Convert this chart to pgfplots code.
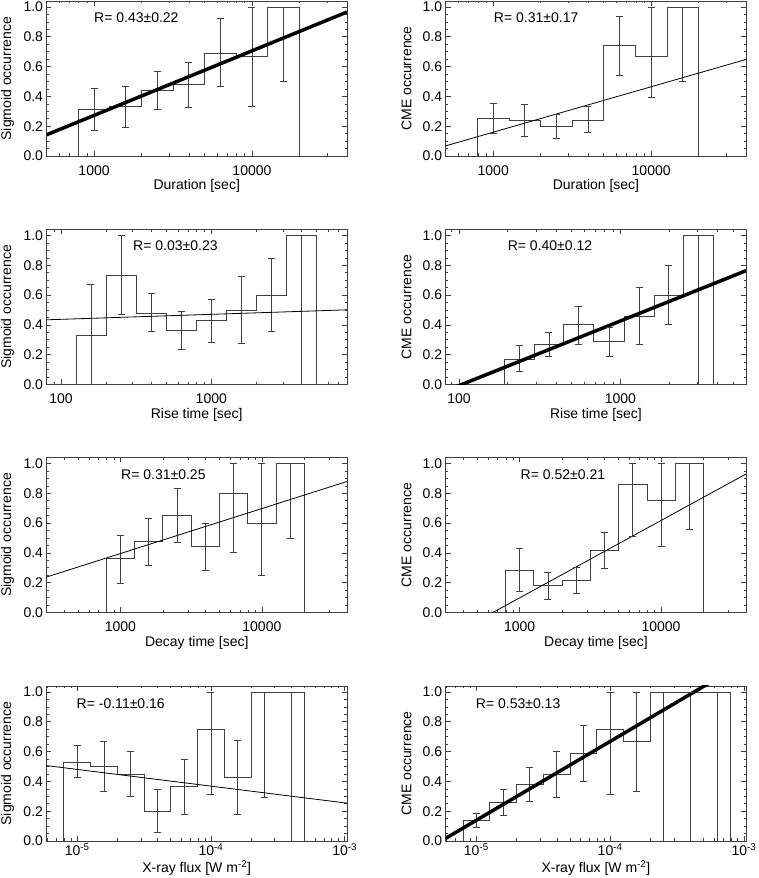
\documentclass[border=0pt]{standalone}
\usepackage{fontspec}
\setmainfont{Liberation Sans}
\usepackage{pgfplots}
\pgfplotsset{compat=1.18}
\newcommand\lblfont{\fontsize{14}{16.8}\selectfont}

\tikzset{rlab/.style={anchor=west, inner sep=0pt, font=\lblfont}}
\pgfplotsset{
  pnl/.style={
    scale only axis, width=300.5pt, height=155pt,
    ymin=0, ymax=1.04,
    ytick={0,0.2,0.4,0.6,0.8,1.0}, yticklabels={0.0,0.2,0.4,0.6,0.8,1.0},
    minor ytick={0.05,0.1,0.15,0.25,0.3,0.35,0.45,0.5,0.55,0.65,0.7,0.75,0.85,0.9,0.95},
    tick align=inside, major tick length=5pt, minor tick length=2.5pt,
    axis line style={black!75, line width=0.8pt},
    tick style={black!75, line width=0.6pt},
    tick label style={font=\lblfont},
    xticklabel style={inner sep=0pt},
    every axis y label/.style={at={(rel axis cs:-0.13,0.5)}, rotate=90, anchor=center, font=\lblfont},
    every axis x label/.style={at={(rel axis cs:0.5,-0.195)}, anchor=center, inner sep=0pt, font=\lblfont},
  },
  normx/.style={xticklabel style={yshift=-9.3pt}},
  durx/.style={normx, xmin=500, xmax=40000, xtick={1000,10000}, xticklabels={1000,10000},
    minor xtick={600,700,800,900,2000,3000,4000,5000,6000,7000,8000,9000,20000,30000},
    xlabel={Duration [sec]}},
  decx/.style={normx, xmin=300, xmax=40000, xtick={1000,10000}, xticklabels={1000,10000},
    minor xtick={400,500,600,700,800,900,2000,3000,4000,5000,6000,7000,8000,9000,20000,30000},
    xlabel={Decay time [sec]}},
  fluxx/.style={xmin=5.9e-6, xmax=1.04e-3, xtick={1e-5,1e-4,1e-3},
    xticklabels={10\textsuperscript{-5},10\textsuperscript{-4},10\textsuperscript{-3}},
    minor xtick={6e-6,7e-6,8e-6,9e-6,2e-5,3e-5,4e-5,5e-5,6e-5,7e-5,8e-5,9e-5,2e-4,3e-4,4e-4,5e-4,6e-4,7e-4,8e-4,9e-4},
    xticklabel style={yshift=-2.5pt},
    every axis x label/.style={at={(rel axis cs:0.5,-0.175)}, anchor=center, inner sep=0pt, font=\lblfont},
    xlabel={X-ray flux [W m\textsuperscript{-2}]}},
  steps/.style={const plot mark left, draw=black!75, line width=0.8pt, mark=none},
  fitline/.style={draw=black, line width=0.8pt, mark=none},
  fitthick/.style={draw=black, line width=3.5pt, mark=none},
  % error bars: (x,low) (x,high) pairs separated by nan, caps drawn as marks
  errs/.style={draw=black!75, line width=0.8pt, unbounded coords=jump,
    mark=-, mark size=3.5pt, mark options={draw=black!75, line width=0.8pt}},
}

\begin{document}
\begin{tikzpicture}
\useasboundingbox (0,0) rectangle (758pt,878pt);

% ---- row 1: duration
\begin{axis}[xmode=log, pnl, durx, at={(46.5pt,722pt)}, ylabel={Sigmoid occurrence}]
\addplot[steps] coordinates {(794,0) (794,0.31) (1259,0.33) (1995,0.44) (3162,0.48) (5012,0.69) (7943,0.67) (12589,1.0) (19953,0)};
\addplot[errs] coordinates {
 (1000,0.17) (1000,0.455) (1000,nan)
 (1585,0.195) (1585,0.47) (1585,nan)
 (2512,0.31) (2512,0.57) (2512,nan)
 (3981,0.325) (3981,0.625) (3981,nan)
 (6310,0.465) (6310,0.925) (6310,nan)
 (10000,0.335) (10000,1.0) (10000,nan)
 (15849,0.5) (15849,1.0)};
\addplot[fitthick] coordinates {(500,0.142) (40000,0.966)};
\node[rlab] at (rel axis cs:0.158,0.895) {R= 0.43±0.22};
\end{axis}

\begin{axis}[xmode=log, pnl, durx, at={(445.7pt,722pt)}, ylabel={CME occurrence}]
\addplot[steps] coordinates {(794,0) (794,0.25) (1259,0.24) (1995,0.20) (3162,0.24) (5012,0.74) (7943,0.67) (12589,1.0) (19953,0)};
\addplot[errs] coordinates {
 (1000,0.15) (1000,0.355) (1000,nan)
 (1585,0.13) (1585,0.345) (1585,nan)
 (2512,0.115) (2512,0.28) (2512,nan)
 (3981,0.155) (3981,0.33) (3981,nan)
 (6310,0.54) (6310,0.935) (6310,nan)
 (10000,0.395) (10000,1.0) (10000,nan)
 (15849,0.5) (15849,1.0)};
\addplot[fitline] coordinates {(500,0.068) (40000,0.648)};
\node[rlab] at (rel axis cs:0.16,0.895) {R= 0.31±0.17};
\end{axis}

% ---- row 2: rise time
\begin{axis}[xmode=log, pnl, normx, at={(46.5pt,493.5pt)}, xmin=80, xmax=8000,
  xtick={100,1000}, xticklabels={100,1000},
  minor xtick={90,200,300,400,500,600,700,800,900,2000,3000,4000,5000,6000,7000},
  xlabel={Rise time [sec]}, ylabel={Sigmoid occurrence}]
\addplot[steps] coordinates {(126,0) (126,0.33) (200,0.73) (316,0.48) (501,0.36) (794,0.43) (1259,0.50) (1995,0.60) (3162,1.0) (5012,0)};
\addplot[errs] coordinates {
 (158,0) (158,0.67) (158,nan)
 (251,0.47) (251,1.0) (251,nan)
 (398,0.355) (398,0.61) (398,nan)
 (631,0.235) (631,0.49) (631,nan)
 (1000,0.285) (1000,0.57) (1000,nan)
 (1585,0.275) (1585,0.725) (1585,nan)
 (2512,0.355) (2512,0.845) (2512,nan)
 (3981,0) (3981,1.0)};
\addplot[fitline] coordinates {(80,0.434) (8000,0.501)};
\node[rlab] at (rel axis cs:0.288,0.893) {R= 0.03±0.23};
\end{axis}

\begin{axis}[xmode=log, pnl, normx, at={(445.7pt,493.5pt)}, xmin=82.7, xmax=6030,
  xtick={100,1000}, xticklabels={100,1000},
  minor xtick={90,200,300,400,500,600,700,800,900,2000,3000,4000,5000,6000},
  xlabel={Rise time [sec]}, ylabel={CME occurrence}]
\addplot[steps] coordinates {(190.6,0) (190.6,0.17) (291.9,0.27) (446.7,0.40) (684.3,0.29) (1059,0.46) (1622,0.60) (2461,1.0) (3802,0)};
\addplot[errs] coordinates {
 (235.8,0.085) (235.8,0.26) (235.8,nan)
 (360.9,0.19) (360.9,0.35) (360.9,nan)
 (552.6,0.27) (552.6,0.525) (552.6,nan)
 (851,0.19) (851,0.385) (851,nan)
 (1311,0.27) (1311,0.65) (1311,nan)
 (1998,0.40) (1998,0.80) (1998,nan)
 (3058,0) (3058,1.0)};
\addplot[fitthick] coordinates {(82.7,-0.043) (6030,0.764)};
\node[rlab] at (rel axis cs:0.206,0.893) {R= 0.40±0.12};
\end{axis}

% ---- row 3: decay time
\begin{axis}[xmode=log, pnl, decx, at={(46.5pt,265.5pt)}, ylabel={Sigmoid occurrence}]
\addplot[steps] coordinates {(794,0) (794,0.36) (1259,0.48) (1995,0.65) (3162,0.445) (5012,0.80) (7943,0.60) (12589,1.0) (19953,0)};
\addplot[errs] coordinates {
 (1000,0.195) (1000,0.52) (1000,nan)
 (1585,0.315) (1585,0.63) (1585,nan)
 (2512,0.47) (2512,0.83) (2512,nan)
 (3981,0.285) (3981,0.60) (3981,nan)
 (6310,0.40) (6310,1.0) (6310,nan)
 (10000,0.25) (10000,1.0) (10000,nan)
 (15849,0.5) (15849,1.0)};
\addplot[fitline] coordinates {(300,0.238) (40000,0.879)};
\node[rlab] at (rel axis cs:0.248,0.888) {R= 0.31±0.25};
\end{axis}

\begin{axis}[xmode=log, pnl, decx, at={(445.7pt,265.5pt)}, ylabel={CME occurrence}]
\addplot[steps] coordinates {(794,0) (794,0.285) (1259,0.18) (1995,0.215) (3162,0.415) (5012,0.86) (7943,0.75) (12589,1.0) (19953,0)};
\addplot[errs] coordinates {
 (1000,0.14) (1000,0.43) (1000,nan)
 (1585,0.085) (1585,0.27) (1585,nan)
 (2512,0.125) (2512,0.305) (2512,nan)
 (3981,0.295) (3981,0.535) (3981,nan)
 (6310,0.51) (6310,1.0) (6310,nan)
 (10000,0.445) (10000,1.0) (10000,nan)
 (15849,0.555) (15849,1.0)};
\addplot[fitline] coordinates {(300,-0.173) (40000,0.93)};
\node[rlab] at (rel axis cs:0.249,0.888) {R= 0.52±0.21};
\end{axis}

% ---- row 4: X-ray flux
\begin{axis}[xmode=log, pnl, fluxx, at={(46.5pt,37pt)}, ylabel={Sigmoid occurrence}]
\addplot[steps] coordinates {(7.943e-6,0) (7.943e-6,0.53) (1.259e-5,0.50) (1.995e-5,0.45) (3.162e-5,0.20) (5.012e-5,0.365) (7.943e-5,0.75) (1.259e-4,0.43) (1.995e-4,1.0) (3.162e-4,1.0) (5.012e-4,0)};
\addplot[errs] coordinates {
 (1e-5,0.425) (1e-5,0.64) (1e-5,nan)
 (1.585e-5,0.335) (1.585e-5,0.665) (1.585e-5,nan)
 (2.512e-5,0.30) (2.512e-5,0.60) (2.512e-5,nan)
 (3.981e-5,0.055) (3.981e-5,0.345) (3.981e-5,nan)
 (6.31e-5,0.18) (6.31e-5,0.545) (6.31e-5,nan)
 (1e-4,0.315) (1e-4,1.0) (1e-4,nan)
 (1.585e-4,0.18) (1.585e-4,0.675) (1.585e-4,nan)
 (2.512e-4,0.295) (2.512e-4,1.0) (2.512e-4,nan)
 (3.981e-4,0) (3.981e-4,1.0)};
\addplot[fitline] coordinates {(5.9e-6,0.506) (1.04e-3,0.254)};
\node[rlab] at (rel axis cs:0.10,0.883) {R= -0.11±0.16};
\end{axis}

\begin{axis}[xmode=log, pnl, fluxx, at={(445.7pt,37pt)}, ylabel={CME occurrence}]
\addplot[steps] coordinates {(7.943e-6,0) (7.943e-6,0.135) (1.259e-5,0.258) (1.995e-5,0.38) (3.162e-5,0.445) (5.012e-5,0.587) (7.943e-5,0.75) (1.259e-4,0.667) (1.995e-4,1.0) (3.162e-4,1.0) (5.012e-4,1.0) (7.943e-4,0)};
\addplot[errs] coordinates {
 (1e-5,0.09) (1e-5,0.185) (1e-5,nan)
 (1.585e-5,0.17) (1.585e-5,0.345) (1.585e-5,nan)
 (2.512e-5,0.265) (2.512e-5,0.495) (2.512e-5,nan)
 (3.981e-5,0.29) (3.981e-5,0.60) (3.981e-5,nan)
 (6.31e-5,0.40) (6.31e-5,0.775) (6.31e-5,nan)
 (1e-4,0.315) (1e-4,1.0) (1e-4,nan)
 (1.585e-4,0.335) (1.585e-4,1.0) (1.585e-4,nan)
 (2.512e-4,0) (2.512e-4,1.0) (2.512e-4,nan)
 (3.981e-4,0) (3.981e-4,1.0) (3.981e-4,nan)
 (6.31e-4,0) (6.31e-4,1.0)};
\addplot[fitthick] coordinates {(5.9e-6,0.018) (1.04e-3,1.206)};
\node[rlab] at (rel axis cs:0.10,0.883) {R= 0.53±0.13};
\end{axis}
\end{tikzpicture}
\end{document}
